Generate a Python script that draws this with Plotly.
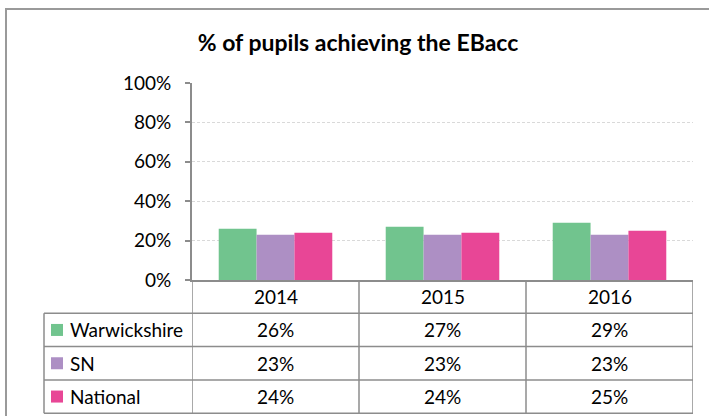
import plotly.graph_objects as go

# --- data -------------------------------------------------------------
years = ["2014", "2015", "2016"]
series_names = ["Warwickshire", "SN", "National"]
warwickshire = [0.26, 0.27, 0.29]
sn = [0.23, 0.23, 0.23]
national = [0.24, 0.24, 0.25]
series_colors = ["#71C48E", "#AD8FC4", "#E84696"]
y_ticks = [0, 0.2, 0.4, 0.6, 0.8, 1.0]
title_text = "% of pupils achieving the EBacc"

series_values = [warwickshire, sn, national]

# --- geometry (pixels) -----------------------------------------------
W, H = 709, 416
PLOT_L, PLOT_R = 192, 693
PLOT_T, PLOT_B = 83, 280
ROW_H = 33.3
TABLE_L = 44
FONT = "Lato, Carlito, Calibri, sans-serif"
GRID = "#8C8C8C"


# plotly "paper" refers to the plot area, so convert page pixels to it
def px_x(x):
    return (x - PLOT_L) / (PLOT_R - PLOT_L)


def px_y(y):
    return (PLOT_B - y) / (PLOT_B - PLOT_T)


fig = go.Figure()
for name, vals, col in zip(series_names, series_values, series_colors):
    fig.add_trace(go.Bar(
        x=years, y=vals, name=name,
        marker=dict(color=col, line=dict(width=0)),
        hoverinfo="x+y+name",
    ))

shapes = []
annotations = []

# outer chart border
shapes.append(dict(type="rect", xref="paper", yref="paper",
                   x0=px_x(6), x1=px_x(W + 10), y0=px_y(H + 10), y1=px_y(9),
                   line=dict(color="#9A9A9A", width=2), fillcolor="rgba(0,0,0,0)",
                   layer="below"))

n_rows = len(series_names)
table_bottom = PLOT_B + ROW_H * (n_rows + 1)

# vertical lines of the data table (category boundaries)
for b in [i - 0.5 for i in range(len(years) + 1)]:
    shapes.append(dict(type="line", xref="x", yref="paper",
                       x0=b, x1=b, y0=px_y(PLOT_B), y1=px_y(table_bottom),
                       line=dict(color=GRID, width=1.5)))
# left border of the legend column
shapes.append(dict(type="line", xref="paper", yref="paper",
                   x0=px_x(TABLE_L), x1=px_x(TABLE_L),
                   y0=px_y(PLOT_B + ROW_H), y1=px_y(table_bottom),
                   line=dict(color=GRID, width=1.5)))
# horizontal row lines
for r in range(1, n_rows + 2):
    yy = PLOT_B + ROW_H * r
    shapes.append(dict(type="line", xref="paper", yref="paper",
                       x0=px_x(TABLE_L), x1=px_x(PLOT_R),
                       y0=px_y(yy), y1=px_y(yy),
                       line=dict(color=GRID, width=1.5)))

# header row: years (category index positions on the x axis)
for i, yr in enumerate(years):
    annotations.append(dict(x=i, xref="x", y=px_y(PLOT_B + ROW_H / 2), yref="paper",
                            text=yr, showarrow=False, xanchor="center", yanchor="middle",
                            font=dict(family=FONT, size=19, color="#000000")))

# value rows with legend keys
for r, (name, vals, col) in enumerate(zip(series_names, series_values, series_colors)):
    yc = PLOT_B + ROW_H * (r + 1.5)
    shapes.append(dict(type="rect", xref="paper", yref="paper",
                       x0=px_x(51), x1=px_x(63), y0=px_y(yc + 6), y1=px_y(yc - 6),
                       line=dict(width=0), fillcolor=col))
    annotations.append(dict(x=px_x(68), xref="paper", y=px_y(yc), yref="paper",
                            text=name, showarrow=False, xanchor="left", yanchor="middle",
                            font=dict(family=FONT, size=19, color="#000000")))
    for i, v in enumerate(vals):
        annotations.append(dict(x=i, xref="x", y=px_y(yc), yref="paper",
                                text=f"{v:.0%}", showarrow=False,
                                xanchor="center", yanchor="middle",
                                font=dict(family=FONT, size=19, color="#000000")))

fig.update_layout(
    width=W, height=H,
    margin=dict(l=PLOT_L, r=W - PLOT_R, t=PLOT_T, b=H - PLOT_B, pad=0),
    paper_bgcolor="#FFFFFF", plot_bgcolor="#FFFFFF",
    barmode="group", bargap=0.32, bargroupgap=0,
    showlegend=False,
    title=dict(text="<b>" + title_text + "</b>", x=358 / W, y=1 - 43 / H,
               xanchor="center", yanchor="middle", xref="container", yref="container",
               font=dict(family=FONT, size=23, color="#000000")),
    xaxis=dict(type="category", showticklabels=False, ticks="", showgrid=False,
               zeroline=False, showline=True, linecolor=GRID, linewidth=2,
               range=[-0.5, len(years) - 0.5], fixedrange=True),
    yaxis=dict(range=[0, 1], tickvals=y_ticks, tickformat=".0%",
               showgrid=True, gridcolor="#D9D9D9", griddash="3px,2px", gridwidth=1,
               zeroline=False, showline=True, linecolor=GRID, linewidth=2,
               ticks="outside", ticklen=5, tickcolor=GRID, tickwidth=1.5,
               ticklabelstandoff=10,
               tickfont=dict(family=FONT, size=19, color="#000000"), fixedrange=True),
    shapes=shapes,
    annotations=annotations,
)

fig.write_html("out.html")
